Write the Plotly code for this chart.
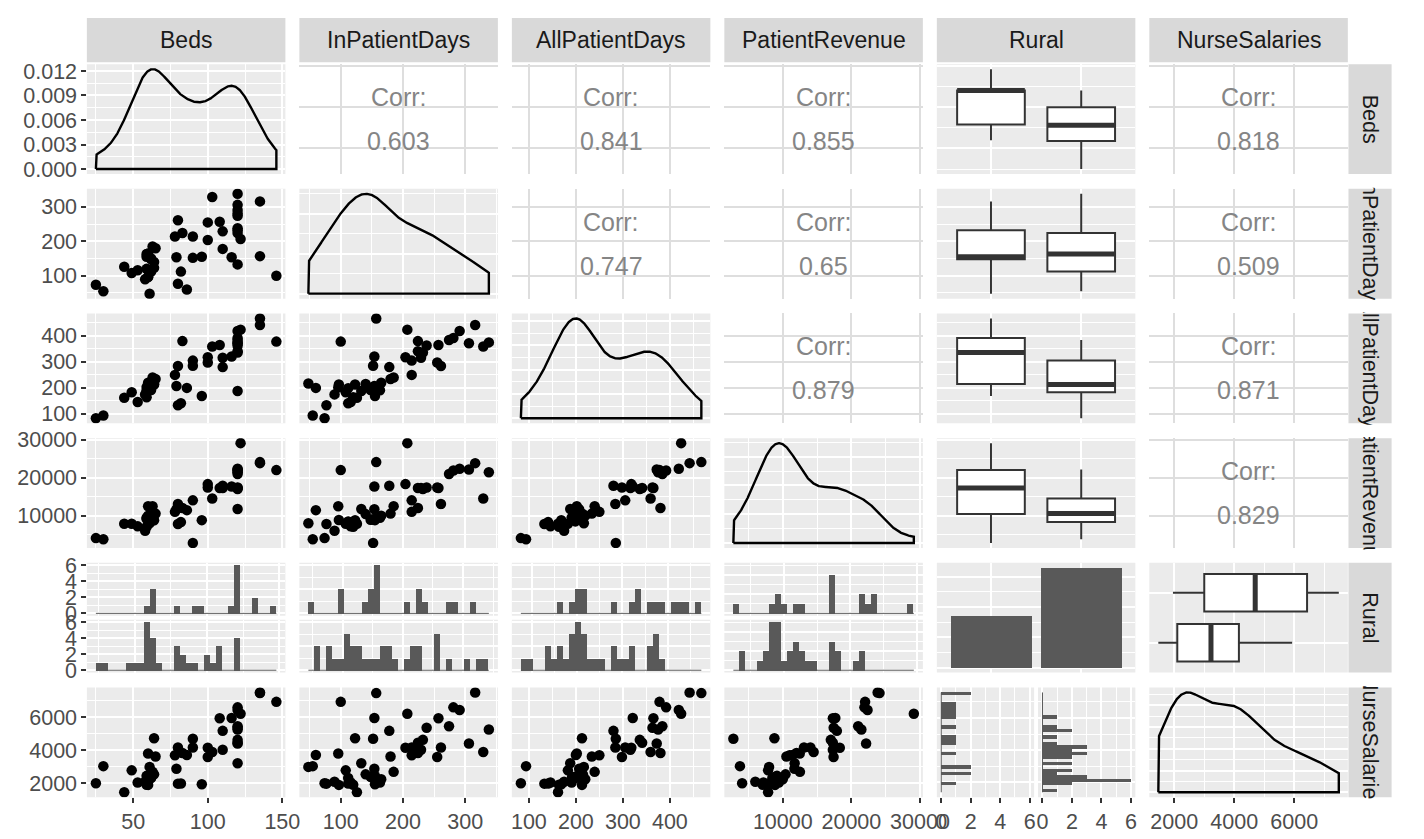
import numpy as np
import plotly.graph_objects as go

# ---------------- data ----------------
Beds = [135, 135, 146, 120, 120, 122, 116, 120, 120, 120, 90, 60, 79, 61, 62, 64, 96,
        25, 30, 44, 49, 53, 58, 59, 59, 59, 60, 60, 62, 62, 63, 64, 65, 80, 80, 78, 82,
        83, 86, 90, 100, 100, 103, 108, 110, 110, 120, 120, 120, 120]
InPatientDays = [316, 157, 100, 281, 291, 207, 154, 238, 232, 224, 152, 96, 154, 48, 148, 140, 155,
                 74, 55, 126, 108, 116, 90, 155, 120, 163, 97, 165, 150, 112, 185, 123, 180, 261, 77,
                 214, 112, 224, 60, 214, 204, 255, 329, 257, 178, 229, 306, 133, 274, 338]
AllPatientDays = [442, 467, 378, 392, 419, 424, 321, 363, 336, 341, 285, 202, 207, 217, 192, 215, 169,
                  83, 94, 162, 183, 146, 175, 203, 164, 191, 213, 220, 200, 199, 240, 213, 234, 284, 133,
                  250, 141, 380, 200, 305, 318, 298, 359, 365, 280, 316, 372, 188, 384, 375]
PatientRevenue = [23829, 24100, 21996, 21900, 22354, 29100, 17655, 17421, 17004, 17300, 2800, 12474,
                  11700, 8000, 8896, 10400, 8812,
                  4078, 3760, 7860, 7860, 7180, 6000, 9160, 7085, 9424, 8872, 10000, 8951, 8486, 12500,
                  8782, 10531, 13089, 7790, 11000, 8300, 12000, 11450, 14025, 18309, 17400, 14500, 17300,
                  17881, 17300, 22147, 11729, 20987, 21453]
Rural = [0] * 17 + [1] * 33
NurseSalaries = [7489, 7450, 6921, 6590, 6430, 6200, 5946, 5362, 4630, 4460, 4700, 3803, 2890, 3000,
                 2409, 2550, 1955,
                 2008, 3044, 1468, 2790, 2060, 2100, 2459, 1925, 2051, 1914, 2250, 2367, 2331, 2700,
                 4729, 3622, 4166, 1988, 3700, 2000, 3840, 3720, 4173, 4156, 3600, 3900, 5933, 5173,
                 4030, 4406, 3224, 5450, 5257]

var_names = ["Beds", "InPatientDays", "AllPatientDays", "PatientRevenue", "Rural", "NurseSalaries"]
# correlation labels as printed in the upper panels (row, col) order
corr_pairs = [(0, 1), (0, 2), (0, 3), (0, 5), (1, 2), (1, 3), (1, 5), (2, 3), (2, 5), (3, 5)]
corr_labels = ["0.603", "0.841", "0.855", "0.818", "0.747", "0.65", "0.509", "0.879", "0.871", "0.829"]
# major tick steps of the axes
tick_steps = {0: 50, 1: 100, 2: 100, 3: 10000, 5: 2000}
beds_density_step = 0.003

# ---------------- geometry / style ----------------
W, H = 1424, 839
PX0, PW, PSTEP = 87.6, 202.5, 216.75
PY0, PH, PYSTEP = 55.5, 112.5, 127.7
FGAP = 4.0
RS_X0, RS_X1 = 1374.5, 1418.5
FONT = "Liberation Sans, Arial, sans-serif"
PANEL_BG = "#EBEBEB"
STRIP_BG = "#D9D9D9"
BAR = "#595959"
BOXLINE = "#333333"
TICK_SIZE = 21.5
STRIP_SIZE = 23
RSTRIP_SIZE = 21.5
CORR_SIZE = 25

arr = [np.asarray(v, float) for v in [Beds, InPatientDays, AllPatientDays, PatientRevenue, Rural, NurseSalaries]]
rural = np.asarray(Rural)
group_ids = [0, 1]


def expand(lo, hi, m=0.05):
    d = hi - lo
    return [lo - m * d, hi + m * d]


def cont_range(i):
    return expand(arr[i].min(), arr[i].max())


def majors_minors(rng, step):
    k0 = int(np.floor(rng[0] / step)) - 1
    k1 = int(np.ceil(rng[1] / step)) + 1
    maj_all = [k * step for k in range(k0, k1 + 1)]
    mins = [m + step / 2 for m in maj_all]
    maj = [m for m in maj_all if rng[0] <= m <= rng[1]]
    mins = [m for m in mins if rng[0] <= m <= rng[1]]
    return maj, mins


def nice_step(span, target=4):
    raw = span / target
    mag = 10 ** np.floor(np.log10(raw))
    cands = [c * mag for c in (1, 2, 2.5, 3, 4, 5, 10)]
    return min(cands, key=lambda s: abs(span / s - target))


def fmt(v, dec=None):
    if dec is not None:
        s = f"{v:.{dec}f}"
        return s.replace("-0.000", "0.000")
    if abs(v - round(v)) < 1e-9:
        return str(int(round(v)))
    return f"{v:g}"


def axis_cfg(rng, majors, minors=None, labels=False, grid="white", dec=None):
    d = dict(range=rng, showgrid=True, gridcolor=grid, gridwidth=2.2, zeroline=False,
             showline=False, tickmode="array", tickvals=majors,
             ticktext=[fmt(m, dec) for m in majors], showticklabels=labels,
             ticks="outside" if labels else "", ticklen=4.5, tickwidth=1.6, tickcolor="#333333",
             tickfont=dict(family=FONT, size=TICK_SIZE, color="#4D4D4D"), tickangle=0,
             fixedrange=True, layer="below traces")
    if minors:
        d["minor"] = dict(tickmode="array", tickvals=minors, showgrid=True, gridcolor=grid,
                          gridwidth=1.1, ticks="")
    return d


def bins_of(i):
    lo, hi = arr[i].min(), arr[i].max()
    w = (hi - lo) / 29.0
    return lo - w / 2, hi + w / 2, w


def kde(v):
    v = np.asarray(v, float)
    n = len(v)
    sd = v.std(ddof=1)
    q75, q25 = np.percentile(v, [75, 25])
    bw = 0.9 * min(sd, (q75 - q25) / 1.34) * n ** (-0.2)
    xs = np.linspace(v.min(), v.max(), 512)
    d = np.exp(-0.5 * ((xs[:, None] - v[None, :]) / bw) ** 2).sum(1) / (n * bw * np.sqrt(2 * np.pi))
    return xs, d


layout = dict(autosize=True, margin=dict(l=0, r=0, t=0, b=0, pad=0), showlegend=False,
              paper_bgcolor="white", plot_bgcolor="white", bargap=0, shapes=[], annotations=[],
              font=dict(family=FONT))
traces = []
counter = [0]


def add_panel(x0, y0, w, h, xcfg, ycfg, bg=PANEL_BG):
    counter[0] += 1
    k = counter[0]
    sfx = "" if k == 1 else str(k)
    xcfg = dict(xcfg, domain=[x0 / W, (x0 + w) / W], anchor="y" + sfx)
    ycfg = dict(ycfg, domain=[1 - (y0 + h) / H, 1 - y0 / H], anchor="x" + sfx)
    layout["xaxis" + sfx] = xcfg
    layout["yaxis" + sfx] = ycfg
    if bg:
        layout["shapes"].append(dict(type="rect", xref="x" + sfx + " domain", yref="y" + sfx + " domain",
                                     x0=0, x1=1, y0=0, y1=1, fillcolor=bg, line=dict(width=0),
                                     layer="below"))
    return "x" + sfx, "y" + sfx


def cont_axis(i, labels=False, grid="white", minor=True):
    rng = cont_range(i)
    maj, mins = majors_minors(rng, tick_steps[i])
    return axis_cfg(rng, maj, mins if minor else None, labels=labels, grid=grid)


def cat_axis():
    return axis_cfg([0.4, 2.6], [1, 2], None, labels=False)


for r in range(6):
    for c in range(6):
        x0 = PX0 + c * PSTEP
        y0 = PY0 + r * PYSTEP
        xlab = (r == 5)
        ylab = (c == 0)
        if r == c:
            if r == 4:
                # bar chart of Rural counts
                cnt = [int(np.sum(rural == g)) for g in group_ids]
                yr = expand(0, max(cnt))
                maj, mins = majors_minors(yr, 10)
                xa, ya = add_panel(x0, y0, PW, PH, cat_axis(), axis_cfg(yr, maj, mins))
                traces.append(go.Bar(x=[1, 2], y=cnt, width=0.9, marker=dict(color=BAR, line=dict(width=0)),
                                     xaxis=xa, yaxis=ya, hoverinfo="skip"))
            else:
                xs, d = kde(arr[r])
                yr = expand(0, d.max())
                if r == 0:
                    maj, mins = majors_minors(yr, beds_density_step)
                    ycfg = axis_cfg(yr, maj, mins, labels=ylab, dec=3)
                else:
                    st = nice_step(yr[1] - yr[0])
                    maj, mins = majors_minors(yr, st)
                    ycfg = axis_cfg(yr, maj, mins)
                xa, ya = add_panel(x0, y0, PW, PH, cont_axis(r, labels=xlab), ycfg)
                px = np.concatenate([[xs[0]], xs, [xs[-1], xs[0]]])
                py = np.concatenate([[0], d, [0, 0]])
                traces.append(go.Scatter(x=px, y=py, mode="lines", line=dict(color="black", width=2.4),
                                         xaxis=xa, yaxis=ya, hoverinfo="skip"))
        elif c > r:
            if c == 4:
                # vertical boxplots of variable r by Rural
                xa, ya = add_panel(x0, y0, PW, PH, cat_axis(), cont_axis(r, labels=ylab))
                for gi, g in enumerate(group_ids):
                    vals = arr[r][rural == g]
                    pos = gi + 1
                    traces.append(go.Box(y=vals, x0=pos, width=0.75, fillcolor="white",
                                         line=dict(color=BOXLINE, width=2), boxpoints=False,
                                         whiskerwidth=0, quartilemethod="inclusive",
                                         xaxis=xa, yaxis=ya, hoverinfo="skip"))
                    med = np.median(vals)
                    traces.append(go.Scatter(x=[pos - 0.375, pos + 0.375], y=[med, med], mode="lines",
                                             line=dict(color=BOXLINE, width=5), xaxis=xa, yaxis=ya,
                                             hoverinfo="skip"))
            elif r == 4:
                # horizontal boxplots of NurseSalaries by Rural (first level on top)
                xa, ya = add_panel(x0, y0, PW, PH, cont_axis(c, labels=xlab), cat_axis())
                for gi, g in enumerate(group_ids):
                    vals = arr[c][rural == g]
                    pos = 2 - gi
                    traces.append(go.Box(x=vals, y0=pos, orientation="h", width=0.75, fillcolor="white",
                                         line=dict(color=BOXLINE, width=2), boxpoints=False,
                                         whiskerwidth=0, quartilemethod="inclusive",
                                         xaxis=xa, yaxis=ya, hoverinfo="skip"))
                    med = np.median(vals)
                    traces.append(go.Scatter(x=[med, med], y=[pos - 0.375, pos + 0.375], mode="lines",
                                             line=dict(color=BOXLINE, width=5), xaxis=xa, yaxis=ya,
                                             hoverinfo="skip"))
            else:
                # correlation text panel
                xcfg = cont_axis(c, grid="#DEDEDE", minor=False)
                ycfg = cont_axis(r, grid="#DEDEDE", minor=False)
                xa, ya = add_panel(x0, y0, PW, PH, xcfg, ycfg, bg=None)
                # invisible anchor point so that the subplot (and its grid) is drawn
                traces.append(go.Scatter(x=[np.mean(xcfg["range"])], y=[np.mean(ycfg["range"])],
                                         mode="markers", marker=dict(opacity=0), xaxis=xa, yaxis=ya,
                                         hoverinfo="skip"))
                lab = corr_labels[corr_pairs.index((r, c))]
                for txt, sh in (("Corr:", 22), (lab, -22)):
                    layout["annotations"].append(dict(text=txt, xref=xa + " domain", yref=ya + " domain",
                                                      x=0.5, y=0.5, xanchor="center", yanchor="middle",
                                                      yshift=sh, showarrow=False,
                                                      font=dict(family=FONT, size=CORR_SIZE, color="#858585")))
        else:
            if r == 4:
                # faceted histograms (top: first Rural level, bottom: second)
                s, e, w = bins_of(c)
                edges = np.linspace(s, e, 31)
                cmax = max(np.histogram(arr[c][rural == g], bins=edges)[0].max() for g in group_ids)
                yr = expand(0, cmax)
                ymaj, ymin = majors_minors(yr, 2)
                xr = expand(s, e)
                xmaj, xmin = majors_minors(xr, tick_steps[c])
                fh = (PH - FGAP) / 2
                for gi, g in enumerate(group_ids):
                    fy0 = y0 + gi * (fh + FGAP)
                    xa, ya = add_panel(x0, fy0, PW, fh, axis_cfg(xr, xmaj, xmin),
                                       axis_cfg(yr, ymaj, ymin, labels=ylab))
                    traces.append(go.Histogram(x=arr[c][rural == g], autobinx=False,
                                               xbins=dict(start=s, end=e, size=w),
                                               marker=dict(color=BAR, line=dict(width=0)),
                                               xaxis=xa, yaxis=ya, hoverinfo="skip"))
                    traces.append(go.Scatter(x=[s, e], y=[0, 0], mode="lines",
                                             line=dict(color=BAR, width=1), xaxis=xa, yaxis=ya,
                                             hoverinfo="skip"))
            elif c == 4:
                # faceted horizontal histograms of NurseSalaries (left: first level)
                s, e, w = bins_of(r)
                edges = np.linspace(s, e, 31)
                cmax = max(np.histogram(arr[r][rural == g], bins=edges)[0].max() for g in group_ids)
                xr = expand(0, cmax)
                xmaj, xmin = majors_minors(xr, 2)
                yr = expand(s, e)
                ymaj, ymin = majors_minors(yr, tick_steps[r])
                fw = (PW - FGAP) / 2
                for gi, g in enumerate(group_ids):
                    fx0 = x0 + gi * (fw + FGAP)
                    xa, ya = add_panel(fx0, y0, fw, PH, axis_cfg(xr, xmaj, xmin, labels=xlab),
                                       axis_cfg(yr, ymaj, ymin))
                    traces.append(go.Histogram(y=arr[r][rural == g], autobiny=False, orientation="h",
                                               ybins=dict(start=s, end=e, size=w),
                                               marker=dict(color=BAR, line=dict(width=0)),
                                               xaxis=xa, yaxis=ya, hoverinfo="skip"))
                    traces.append(go.Scatter(x=[0, 0], y=[s, e], mode="lines",
                                             line=dict(color=BAR, width=1), xaxis=xa, yaxis=ya,
                                             hoverinfo="skip"))
            else:
                xa, ya = add_panel(x0, y0, PW, PH, cont_axis(c, labels=xlab), cont_axis(r, labels=ylab))
                traces.append(go.Scatter(x=arr[c], y=arr[r], mode="markers",
                                         marker=dict(color="black", size=10.5, line=dict(width=0)),
                                         xaxis=xa, yaxis=ya, hoverinfo="skip"))

# strips
for c, name in enumerate(var_names):
    x0 = PX0 + c * PSTEP
    layout["shapes"].append(dict(type="rect", xref="paper", yref="paper", x0=x0 / W, x1=(x0 + PW) / W,
                                 y0=1 - 53.5 / H, y1=1 - 8.3 / H, fillcolor=STRIP_BG, line=dict(width=0),
                                 layer="below"))
    layout["annotations"].append(dict(text=name, xref="paper", yref="paper", x=(x0 + PW / 2) / W,
                                      y=1 - 31 / H, xanchor="center", yanchor="middle", showarrow=False,
                                      font=dict(family=FONT, size=STRIP_SIZE, color="#1A1A1A")))
for r, name in enumerate(var_names):
    y0 = PY0 + r * PYSTEP
    layout["shapes"].append(dict(type="rect", xref="paper", yref="paper", x0=RS_X0 / W, x1=RS_X1 / W,
                                 y0=1 - (y0 + PH) / H, y1=1 - y0 / H, fillcolor=STRIP_BG,
                                 line=dict(width=0), layer="below"))
    # text box limited to the strip, so long labels are clipped as in the reference
    layout["annotations"].append(dict(text=name, xref="paper", yref="paper", x=(RS_X0 + RS_X1) / 2 / W,
                                      y=1 - (y0 + PH / 2) / H, xanchor="center", yanchor="middle",
                                      showarrow=False, textangle=90, width=PH, height=RS_X1 - RS_X0,
                                      align="center", valign="middle", borderpad=0,
                                      font=dict(family=FONT, size=RSTRIP_SIZE, color="#1A1A1A")))

fig = go.Figure(data=traces, layout=layout)
fig.write_html("out.html", default_width="100vw", default_height="100vh",
               config={"displayModeBar": False, "responsive": True},
               post_script="document.body.style.margin='0';document.body.style.overflow='hidden';"
                           "window.dispatchEvent(new Event('resize'));")
